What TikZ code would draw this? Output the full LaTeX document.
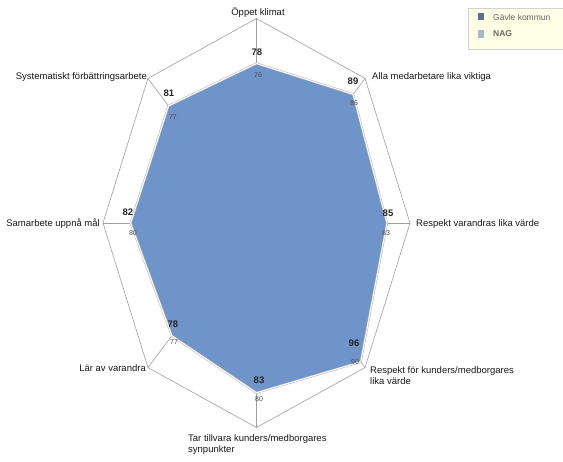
\documentclass[tikz,border=0pt]{standalone}
\usepackage{fontspec}
\setmainfont{Liberation Sans}
\definecolor{gavlefill}{HTML}{6F94C9}
\definecolor{nagfill}{HTML}{AEC0D6}
\definecolor{gavlekey}{HTML}{5E6E90}
\definecolor{nagkey}{HTML}{A7B9D0}
\definecolor{legendbg}{HTML}{FEFEE4}
\begin{document}
\begin{tikzpicture}[x=1pt,y=-1pt,
  grid/.style={draw=gray!75, line width=0.6pt},
  axislabel/.style={font=\fontsize{9.5}{11}\selectfont, text=black!90, inner sep=0pt},
  gval/.style={font=\fontsize{9.5}{11}\selectfont\bfseries, text=black!85, inner sep=0pt},
  nval/.style={font=\fontsize{7}{8}\selectfont, text=black!70, inner sep=0pt},
  legendtext/.style={font=\fontsize{8.5}{10}\selectfont, text=black!60, inner sep=0pt, anchor=west},
]
\useasboundingbox (0,0) rectangle (563,462);
\clip (0,0) rectangle (563,462);
\fill[white] (0,0) rectangle (563,462);

% octagon axes: 0 = top, clockwise
\foreach \i/\ang in {0/90,1/45,2/0,3/-45,4/-90,5/-135,6/180,7/135} {
  \coordinate (v\i) at ({256.5+153.5*cos(\ang)},{223-204.5*sin(\ang)});
}
\coordinate (O) at (256.5,223);

% grid outline and spokes
\draw[grid] (v0) -- (v1) -- (v2) -- (v3) -- (v4) -- (v5) -- (v6) -- (v7) -- cycle;
\foreach \i in {0,...,7} { \draw[grid] (O) -- (v\i); }

% data points (scale 0..100)
\foreach \i/\ang/\g/\n in {0/90/78/76,1/45/89/86,2/0/85/83,3/-45/96/90,4/-90/83/80,5/-135/78/77,6/180/82/80,7/135/81/77} {
  \coordinate (g\i) at ({256.5+1.535*\g*cos(\ang)},{223-2.045*\g*sin(\ang)});
  \coordinate (n\i) at ({256.5+1.535*\n*cos(\ang)},{223-2.045*\n*sin(\ang)});
}

% NAG series
\filldraw[fill=nagfill, draw=gray!60, line width=0.6pt]
  (n0) -- (n1) -- (n2) -- (n3) -- (n4) -- (n5) -- (n6) -- (n7) -- cycle;
% Gävle kommun series
\filldraw[fill=gavlefill, draw=gray!60, double=white, double distance=1pt, line width=0.5pt]
  (g0) -- (g1) -- (g2) -- (g3) -- (g4) -- (g5) -- (g6) -- (g7) -- cycle;

% value labels, Gävle kommun
\node[gval] (gl0) at (257,52) {78};
\node[gval] (gl1) at (353,81) {89};
\node[gval] (gl2) at (388,213) {85};
\node[gval] (gl3) at (354,343) {96};
\node[gval] (gl4) at (259,380) {83};
\node[gval] (gl5) at (173,324) {78};
\node[gval] (gl6) at (128,212) {82};
\node[gval] (gl7) at (169,93) {81};
% value labels, NAG
\node[nval] (nl0) at (258,75) {76};
\node[nval] (nl1) at (354,103) {86};
\node[nval] (nl2) at (386,233) {83};
\node[nval] (nl3) at (355,362) {90};
\node[nval] (nl4) at (259,399) {80};
\node[nval] (nl5) at (174,342) {77};
\node[nval] (nl6) at (133,233) {80};
\node[nval] (nl7) at (173,117) {77};

% axis labels
\node[axislabel, anchor=base] (a0) at (258,16) {Öppet klimat};
\node[axislabel, anchor=base west] (a1) at (372,79.5) {Alla medarbetare lika viktiga};
\node[axislabel, anchor=base west] (a2) at (416,226.5) {Respekt varandras lika värde};
\node[axislabel, anchor=north west, align=left] (a3) at (370,366.5) {Respekt för kunders/medborgares\\lika värde};
\node[axislabel, anchor=north west, align=left] (a4) at (188,434) {Tar tillvara kunders/medborgares\\synpunkter};
\node[axislabel, anchor=base east] (a5) at (146,372) {Lär av varandra};
\node[axislabel, anchor=base east] (a6) at (100,226.5) {Samarbete uppnå mål};
\node[axislabel, anchor=base east] (a7) at (147,80) {Systematiskt förbättringsarbete};

% legend
\draw[fill=legendbg, draw=gray!35, line width=0.6pt] (468,8) rectangle (575,49);
\node[fill=gavlekey, minimum width=6pt, minimum height=7.5pt, inner sep=0pt] (k1) at (480.5,16.5) {};
\node[fill=nagkey, minimum width=6pt, minimum height=7.5pt, inner sep=0pt] (k2) at (480.5,34) {};
\node[legendtext] (t1) at (493,17) {Gävle kommun};
\node[legendtext, font=\fontsize{8.5}{10}\selectfont\bfseries] (t2) at (493,34) {NAG};
\end{tikzpicture}
\end{document}
